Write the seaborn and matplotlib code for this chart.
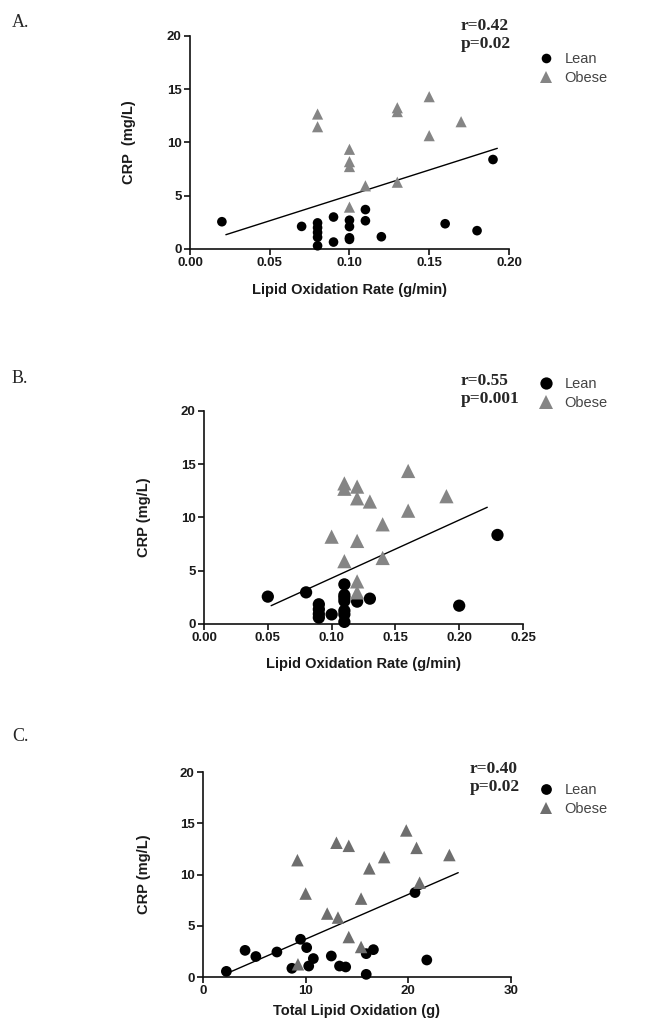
import numpy as np
import pandas as pd
import matplotlib
matplotlib.use("Agg")
import matplotlib.pyplot as plt
from matplotlib.ticker import FormatStrFormatter
import seaborn as sns

# Panel A: CRP vs lipid oxidation rate
a_lean_x = [0.02, 0.07, 0.08, 0.08, 0.08, 0.08, 0.08, 0.09, 0.09, 0.10, 0.10, 0.10, 0.10,
            0.11, 0.11, 0.12, 0.16, 0.18, 0.19]
a_lean_y = [2.56, 2.12, 2.45, 2.0, 1.55, 1.1, 0.3, 3.0, 0.65, 2.7, 2.1, 1.05, 0.9,
            3.7, 2.65, 1.15, 2.37, 1.72, 8.4]
a_obese_x = [0.08, 0.08, 0.10, 0.10, 0.10, 0.10, 0.11, 0.13, 0.13, 0.13, 0.15, 0.15, 0.17]
a_obese_y = [12.67, 11.48, 9.36, 8.2, 7.74, 3.93, 5.93, 13.26, 12.9, 6.27, 14.3, 10.64, 11.95]
a_fit_x = [0.0225, 0.1927]
a_fit_y = [1.34, 9.45]

# Panel B: CRP vs lipid oxidation rate
b_lean_x = [0.05, 0.08, 0.09, 0.09, 0.09, 0.09, 0.10, 0.11, 0.11, 0.11, 0.11, 0.11, 0.11,
            0.11, 0.12, 0.13, 0.20, 0.23]
b_lean_y = [2.57, 2.97, 1.85, 1.38, 0.94, 0.6, 0.9, 3.72, 2.72, 2.47, 2.16, 1.25, 0.9,
            0.2, 2.1, 2.38, 1.72, 8.36]
b_obese_x = [0.10, 0.11, 0.11, 0.11, 0.12, 0.12, 0.12, 0.12, 0.12, 0.13, 0.14, 0.14,
             0.16, 0.16, 0.19]
b_obese_y = [8.2, 13.2, 12.7, 5.9, 12.9, 11.8, 7.8, 4.0, 2.97, 11.5, 9.36, 6.2,
             14.37, 10.64, 12.0]
b_fit_x = [0.0526, 0.222]
b_fit_y = [1.72, 10.96]

# Panel C: CRP vs total lipid oxidation
c_lean_x = [2.28, 4.1, 5.15, 7.2, 8.66, 9.5, 10.1, 10.3, 10.75, 12.5, 13.3, 13.9,
            15.9, 15.9, 16.6, 20.65, 21.8]
c_lean_y = [0.55, 2.6, 2.0, 2.44, 0.85, 3.68, 2.87, 1.07, 1.8, 2.05, 1.07, 0.98,
            2.28, 0.26, 2.67, 8.24, 1.66]
c_obese_x = [9.2, 9.25, 10.0, 12.1, 13.0, 13.15, 14.2, 14.2, 15.4, 15.4, 16.2, 17.65,
             19.8, 20.8, 21.1, 24.0]
c_obese_y = [11.4, 1.24, 8.14, 6.19, 13.1, 5.8, 12.8, 3.9, 7.65, 2.93, 10.6, 11.7,
             14.3, 12.6, 9.2, 11.9]
c_fit_x = [2.28, 24.86]
c_fit_y = [0.33, 10.18]

sns.set_style("ticks")
plt.rcParams["font.family"] = ["Liberation Sans", "DejaVu Sans"]

fig = plt.figure(figsize=(6.59, 10.28), dpi=100)


def make_panel(rect, lean_x, lean_y, obese_x, obese_y, fit_x, fit_y, xmax, xstep, xfmt,
               xlabel, ylabel, size, obese_color, stats, stats_pos, leg_pos, letter, letter_pos,
               ylab_x, xpad):
    ax = fig.add_axes(rect)
    df = pd.DataFrame({
        "x": lean_x + obese_x,
        "y": lean_y + obese_y,
        "group": ["Lean"] * len(lean_x) + ["Obese"] * len(obese_x),
    })
    sns.scatterplot(data=df, x="x", y="y", hue="group", style="group", size="group",
                    palette={"Lean": "black", "Obese": obese_color},
                    markers={"Lean": "o", "Obese": "^"},
                    sizes={"Lean": size, "Obese": size * 1.35},
                    linewidth=0, ax=ax, clip_on=False, zorder=3)
    fit = pd.DataFrame({"x": fit_x, "y": fit_y})
    sns.lineplot(data=fit, x="x", y="y", color="black", linewidth=1.0, ax=ax, zorder=2)

    ax.set_xlim(0, xmax)
    ax.set_ylim(0, 20)
    ax.set_xticks(np.arange(0, xmax + xstep / 2, xstep))
    ax.set_yticks([0, 5, 10, 15, 20])
    if xfmt:
        ax.xaxis.set_major_formatter(FormatStrFormatter(xfmt))
    sns.despine(ax=ax)
    for sp in ["left", "bottom"]:
        ax.spines[sp].set_linewidth(1.2)
        ax.spines[sp].set_color("#111111")
    ax.tick_params(length=4, width=1.2, color="#111111", labelsize=9.5, pad=2,
                   labelcolor="#1a1a1a")
    for lab in ax.get_xticklabels() + ax.get_yticklabels():
        lab.set_fontweight("bold")
    ax.set_xlabel(xlabel, fontsize=10.5, fontweight="bold", color="#1a1a1a", labelpad=xpad)
    ax.set_ylabel(ylabel, fontsize=10.5, fontweight="bold", color="#1a1a1a")
    ax.yaxis.set_label_coords(ylab_x, 0.5)

    sns.move_legend(ax, loc="upper left", bbox_to_anchor=leg_pos,
                    bbox_transform=fig.transFigure, frameon=False, title=None,
                    fontsize=10.5, handletextpad=0.3, labelspacing=0.35,
                    labelcolor="#444444")

    fig.text(stats_pos[0], stats_pos[1], stats, family="Liberation Serif",
             fontweight="bold", fontsize=12.5, va="top", linespacing=1.2)
    fig.text(letter_pos[0], letter_pos[1], letter, family="Liberation Serif",
             fontsize=13, va="top")
    return ax


make_panel([0.2883, 0.7578, 0.484, 0.2072], a_lean_x, a_lean_y, a_obese_x, a_obese_y,
           a_fit_x, a_fit_y, 0.20, 0.05, "%.2f", "Lipid Oxidation Rate (g/min)",
           "CRP  (mg/L)", 48, "#858585", "r=0.42\np=0.02",
           (461 / 659, 1 - 18 / 1028), (518 / 659, 1 - 39 / 1028), "A.", (12 / 659, 1 - 14 / 1028),
           -0.17, 10)

make_panel([0.3096, 0.3930, 0.484, 0.2072], b_lean_x, b_lean_y, b_obese_x, b_obese_y,
           b_fit_x, b_fit_y, 0.25, 0.05, "%.2f", "Lipid Oxidation Rate (g/min)",
           "CRP (mg/L)", 78, "#858585", "r=0.55\np=0.001",
           (461 / 659, 1 - 373 / 1028), (518 / 659, 1 - 364 / 1028), "B.", (12 / 659, 1 - 370 / 1028),
           -0.165, 9)

make_panel([0.3080, 0.0496, 0.4674, 0.1994], c_lean_x, c_lean_y, c_obese_x, c_obese_y,
           c_fit_x, c_fit_y, 30, 10, None, "Total Lipid Oxidation (g)",
           "CRP (mg/L)", 60, "#6e6e6e", "r=0.40\np=0.02",
           (470 / 659, 1 - 761 / 1028), (518 / 659, 1 - 770 / 1028), "C.", (12 / 659, 1 - 728 / 1028),
           -0.17, 5)

fig.savefig("out.png", dpi=100)
